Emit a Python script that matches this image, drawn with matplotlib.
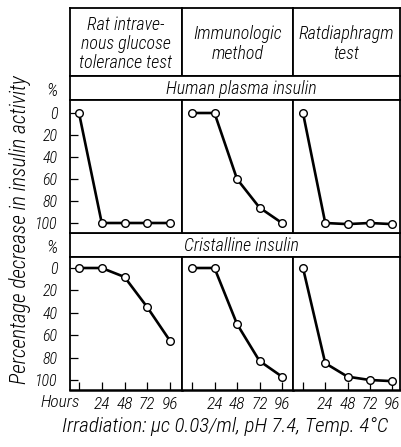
import matplotlib
matplotlib.use("Agg")
import matplotlib.pyplot as plt

plt.rcParams['font.family'] = ['Roboto Condensed', 'Liberation Sans Narrow', 'DejaVu Sans']
plt.rcParams['font.style'] = 'italic'
plt.rcParams['font.weight'] = 'light'

hours = [0, 24, 48, 72, 96]
tests = ["Rat intrave-\nnous glucose\ntolerance test", "Immunologic\nmethod", "Ratdiaphragm\ntest"]
groups = ["Human plasma insulin", "Cristalline insulin"]

# percentage decrease in insulin activity
plasma_rat_iv = [0, 100, 100, 100, 100]
plasma_immuno = [0, 0, 60, 86, 100]
plasma_diaphragm = [0, 100, 101, 100, 101]
crist_rat_iv = [0, 0, 8, 35, 65]
crist_immuno = [0, 0, 50, 83, 97]
crist_diaphragm = [0, 85, 97, 100, 101]

series = [[plasma_rat_iv, plasma_immuno, plasma_diaphragm],
          [crist_rat_iv, crist_immuno, crist_diaphragm]]
yticks = [0, 20, 40, 60, 80, 100]

W, H = 401, 447
fig = plt.figure(figsize=(W / 100, H / 100), dpi=100)


def box(x0, y0, x1, y1):
    # pixel box (top-left origin) -> axes
    return fig.add_axes([x0 / W, 1 - y1 / H, (x1 - x0) / W, (y1 - y0) / H])


cols = [(70, 182), (182, 293), (293, 400)]
# x pixel of hour 0 and hour 96 in each column
xpix = [(79, 170), (192, 282), (303, 392)]
rows = [(100, 233), (257, 390)]
# y pixel of 0 % and 100 % in each row
ypix = [(113, 223), (268, 380)]
bands = [(76, 100), (233, 257)]

lw_frame = 1.3

# column headers
for c, (x0, x1) in enumerate(cols):
    ax = box(x0, 8, x1, 76)
    ax.set_xticks([])
    ax.set_yticks([])
    for s in ax.spines.values():
        s.set_linewidth(lw_frame)
    ax.text(0.5, 0.47, tests[c], transform=ax.transAxes,
            ha='center', va='center', fontsize=13, linespacing=1.1)

# group bands
for g, (y0, y1) in enumerate(bands):
    ax = box(70, y0, 400, y1)
    ax.set_xticks([])
    ax.set_yticks([])
    for s in ax.spines.values():
        s.set_linewidth(lw_frame)
    ax.text(0.52, 0.47, groups[g], transform=ax.transAxes,
            ha='center', va='center', fontsize=13)

for r, (ry0, ry1) in enumerate(rows):
    p0, p100 = ypix[r]
    k = (p100 - p0) / 100
    ylim = (100 + (ry1 - p100) / k, -(p0 - ry0) / k)
    for c, (cx0, cx1) in enumerate(cols):
        h0, h96 = xpix[c]
        kx = (h96 - h0) / 96
        ax = box(cx0, ry0, cx1, ry1)
        ax.set_xlim(-(h0 - cx0) / kx, 96 + (cx1 - h96) / kx)
        ax.set_ylim(*ylim)
        for s in ax.spines.values():
            s.set_linewidth(lw_frame)
        ax.plot(hours, series[r][c], color='black', lw=1.9,
                marker='o', ms=5.5, mfc='white', mec='black', mew=1, zorder=3)
        if c == 0:
            ax.set_yticks(yticks)
            ax.set_yticklabels([str(v) for v in yticks], fontsize=11.5)
            ax.tick_params(axis='y', direction='in', length=6, width=0.9, pad=9)
            ax.text(-0.16, 1.07, "%", transform=ax.transAxes, ha='center',
                    va='center', fontsize=13)
        else:
            ax.set_yticks([])
        if r == 1:
            ax.set_xticks(hours)
            ax.set_xticklabels([""] + [str(h) for h in hours[1:]], fontsize=12.5)
            ax.tick_params(axis='x', direction='in', length=6, width=0.9, pad=5)
            ax.spines['bottom'].set_linewidth(1.8)
            if c == 0:
                ax.text(-0.09, -0.095, "Hours", transform=ax.transAxes,
                        ha='center', va='center', fontsize=12.5)
        else:
            ax.set_xticks([])

fig.text(20 / W, 1 - 230 / H, "Percentage decrease in insulin activity",
         rotation=90, ha='center', va='center', fontsize=15.5)
fig.text(225 / W, 1 - 427 / H, "Irradiation: μc 0.03/ml, pH 7.4, Temp. 4°C",
         ha='center', va='center', fontsize=15)

fig.savefig("out.png", dpi=100)
